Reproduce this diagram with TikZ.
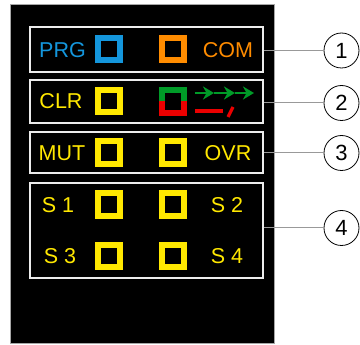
\documentclass[tikz,border=0pt]{standalone}
\usepackage{fontspec}
\setmainfont{Liberation Sans}
\usetikzlibrary{arrows.meta}
\definecolor{prgblue}{RGB}{20,150,220}
\definecolor{comorange}{RGB}{255,140,0}
\definecolor{ledyellow}{RGB}{255,232,0}
\definecolor{ledgreen}{RGB}{0,155,40}
\definecolor{ledred}{RGB}{235,0,0}
\begin{document}
\begin{tikzpicture}[x=1pt,y=-1pt,
  grp/.style={draw=gray!15, line width=1.8pt, minimum width=233pt, inner sep=0pt},
  led/.style={draw=#1, line width=6pt, minimum size=22.5pt, inner sep=0pt},
  lbl/.style={text=#1, font=\fontsize{21.5}{21.5}\selectfont, text height=15pt, text depth=0pt, inner sep=0pt},
  callout/.style={circle, draw=black, fill=white, line width=0.8pt, minimum size=35pt, inner sep=0pt, font=\fontsize{22}{22}\selectfont},
  leader/.style={draw=gray!80, line width=1pt},
  grarrow/.style={ledgreen, line width=2.8pt, -{Stealth[length=11pt,width=13pt,inset=3.5pt]}},
  redline/.style={ledred, line width=3.2pt}
]
\useasboundingbox (0,0) rectangle (360,345);
\fill[black, draw=gray!70, line width=0.8pt] (10,4) rectangle (274,343);

% group boxes
\node[grp, minimum height=45pt] (b1) at (146.5,49.5) {};
\node[grp, minimum height=43pt] (b2) at (146.5,101.5) {};
\node[grp, minimum height=41pt] (b3) at (146.5,152.5) {};
\node[grp, minimum height=95pt] (b4) at (146.5,230.5) {};

% row 1
\node[lbl=prgblue] (tprg) at (62.5,50) {PRG};
\node[led=prgblue] (lprg) at (109,49) {};
\node[led=comorange] (lcom) at (173,49) {};
\node[lbl=comorange] (tcom) at (228,50) {COM};

% row 2
\node[lbl=ledyellow] (tclr) at (61,101.5) {CLR};
\node[led=ledyellow] (lclr) at (109,101) {};
\node[minimum size=22.5pt, inner sep=0pt] (lgr) at (173,101.5) {};
\draw[ledgreen, line width=6pt] (lgr.west) -- (lgr.north west) -- (lgr.north east) -- (lgr.east);
\draw[ledred, line width=6pt] (lgr.west) -- (lgr.south west) -- (lgr.south east) -- (lgr.east);
\coordinate (a0) at (195,93);
\coordinate (a1) at (214,93);
\coordinate (a2) at (235,93);
\coordinate (a3) at (254,93);
\draw[grarrow] (a0) -- (a1);
\draw[grarrow] (a1) -- (a2);
\draw[grarrow] (a2) -- (a3);
\coordinate (r0) at (195,111);
\coordinate (r1) at (223,111);
\coordinate (r2) at (228,117);
\coordinate (r3) at (233,107);
\draw[redline] (r0) -- (r1);
\draw[redline] (r2) -- (r3);

% row 3
\node[lbl=ledyellow] (tmut) at (62,153) {MUT};
\node[led=ledyellow] (lmut) at (109,152.5) {};
\node[led=ledyellow] (lovr) at (173,152.5) {};
\node[lbl=ledyellow] (tovr) at (228,153) {OVR};

% row 4
\node[lbl=ledyellow] (ts1) at (58,205) {S 1};
\node[led=ledyellow] (ls1) at (109,204.5) {};
\node[led=ledyellow] (ls2) at (173,204.5) {};
\node[lbl=ledyellow] (ts2) at (227,205) {S 2};
\node[lbl=ledyellow] (ts3) at (60,256.5) {S 3};
\node[led=ledyellow] (ls3) at (109,256) {};
\node[led=ledyellow] (ls4) at (173,256) {};
\node[lbl=ledyellow] (ts4) at (227,256.5) {S 4};

% callouts
\node[callout] (c1) at (341.5,50.5) {1};
\node[callout] (c2) at (341.5,103) {2};
\node[callout] (c3) at (341.5,153) {3};
\node[callout] (c4) at (341.5,228) {4};
\draw[leader] (b1.east |- c1) -- (c1.west);
\draw[leader] (b2.east |- c2) -- (c2.west);
\draw[leader] (b3.east |- c3) -- (c3.west);
\draw[leader] (b4.east |- c4) -- (c4.west);
\end{tikzpicture}
\end{document}
